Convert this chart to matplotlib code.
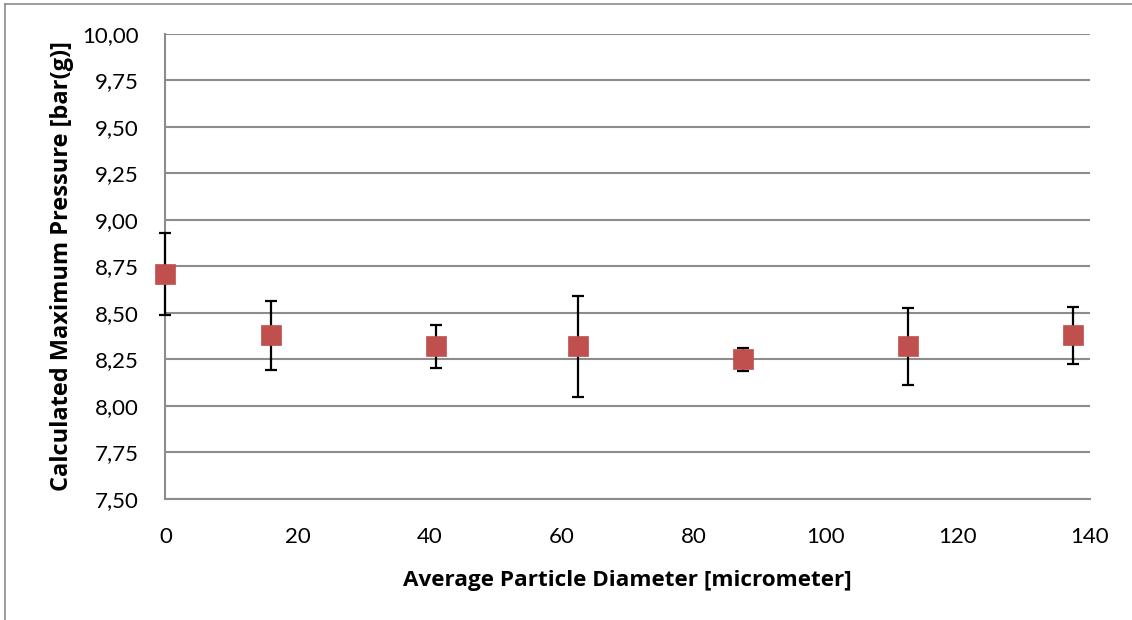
import matplotlib
matplotlib.use("Agg")
import matplotlib.pyplot as plt
from matplotlib.lines import Line2D
from matplotlib.ticker import FuncFormatter, MultipleLocator

plt.rcParams['font.family'] = ['Lato', 'DejaVu Sans']

# Average particle diameter [micrometer]
diameter = [0, 16, 41, 62.5, 87.5, 112.5, 137.5]
# Calculated maximum pressure [bar(g)] and its spread
pressure = [8.71, 8.38, 8.32, 8.32, 8.25, 8.32, 8.38]
pressure_err = [0.22, 0.185, 0.117, 0.27, 0.06, 0.208, 0.154]

x_label = "Average Particle Diameter [micrometer]"
y_label = "Calculated Maximum Pressure [bar(g)]"

fig = plt.figure(figsize=(11.32, 6.20), dpi=100)
ax = fig.add_axes([0.1462, 0.1952, 0.8167, 0.7500])

grid_col = "#8c8c8c"
ax.set_xlim(0, 140)
ax.set_ylim(7.5, 10.0)
ax.xaxis.set_major_locator(MultipleLocator(20))
ax.yaxis.set_major_locator(MultipleLocator(0.25))
ax.yaxis.set_major_formatter(FuncFormatter(lambda v, _: f"{v:.2f}".replace(".", ",")))
ax.grid(axis="y", color=grid_col, linewidth=1.5)
ax.set_axisbelow(True)

for side in ("top", "right"):
    ax.spines[side].set_visible(False)
for side in ("left", "bottom"):
    ax.spines[side].set_color(grid_col)
    ax.spines[side].set_linewidth(1.5)

ax.tick_params(axis="both", length=0, labelsize=16, colors="black")
ax.tick_params(axis="y", pad=19)
ax.tick_params(axis="x", pad=20)

marker_col = "#c0504d"
_, caps, bars = ax.errorbar(diameter, pressure, yerr=pressure_err, fmt="none",
                            ecolor="black", elinewidth=1.6, capsize=4.6,
                            capthick=1.6, zorder=3)
for artist in (*caps, *bars):
    artist.set_clip_on(False)
ax.plot(diameter, pressure, linestyle="none", marker="s", markersize=14,
        markerfacecolor=marker_col, markeredgecolor=marker_col,
        markeredgewidth=0.5, zorder=4, clip_on=False)

label_font = dict(family=["Open Sans", "DejaVu Sans"], fontweight="bold")
ax.set_xlabel(x_label, va="center", fontsize=16.2, **label_font)
ax.set_ylabel(y_label, va="center", fontsize=17, **label_font)
ax.xaxis.set_label_coords(0.5, -0.176)
ax.yaxis.set_label_coords(-0.112, 0.5)

# thin frame around the chart area
fig.add_artist(Line2D([5 / 1132, 1], [1 - 4 / 620, 1 - 4 / 620],
                      color="#8c8c8c", linewidth=1.2, transform=fig.transFigure))
fig.add_artist(Line2D([5 / 1132, 5 / 1132], [0, 1 - 4 / 620],
                      color="#8c8c8c", linewidth=1.2, transform=fig.transFigure))

fig.savefig("out.png", dpi=100)
